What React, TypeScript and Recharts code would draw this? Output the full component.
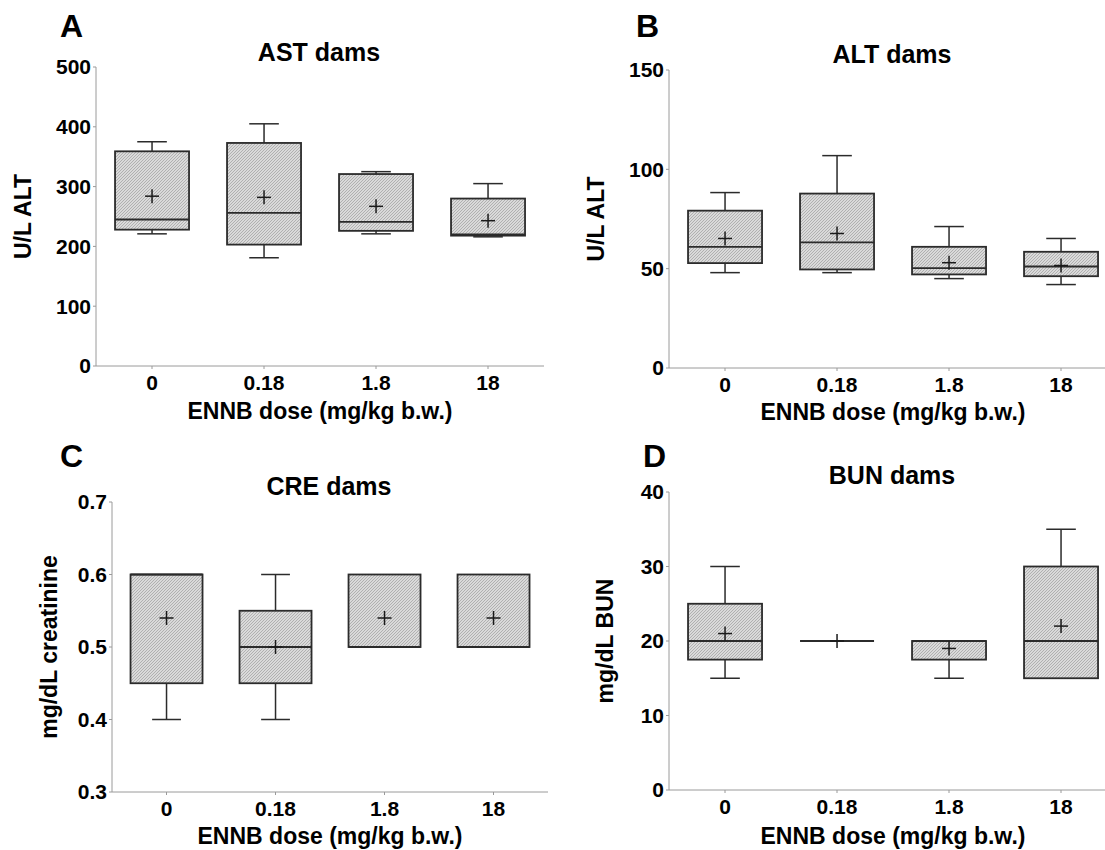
import React from 'react';
import { ComposedChart, Bar, XAxis, YAxis } from 'recharts';

const doses = ['0', '0.18', '1.8', '18'];

// AST dams (U/L)
const astMin = [221, 181, 221, 216];
const astQ1 = [228, 203, 226, 218];
const astMed = [245, 256, 241, 220];
const astQ3 = [359, 373, 321, 280];
const astMax = [375, 405, 325, 305];
const astMean = [284, 282, 267, 243];

// ALT dams (U/L)
const altMin = [48, 48, 45, 42];
const altQ1 = [52.8, 49.6, 47.1, 46.2];
const altMed = [61, 63.2, 50.3, 51.1];
const altQ3 = [79.2, 87.8, 61, 58.5];
const altMax = [88.3, 106.9, 71.2, 65.2];
const altMean = [65.2, 67.7, 53, 51.6];

// CRE dams (mg/dL)
const creMin = [0.4, 0.4, 0.5, 0.5];
const creQ1 = [0.45, 0.45, 0.5, 0.5];
const creMed = [0.6, 0.5, 0.5, 0.5];
const creQ3 = [0.6, 0.55, 0.6, 0.6];
const creMax = [0.6, 0.6, 0.6, 0.6];
const creMean = [0.54, 0.5, 0.54, 0.54];

// BUN dams (mg/dL)
const bunMin = [15, 20, 15, 15];
const bunQ1 = [17.5, 20, 17.5, 15];
const bunMed = [20, 20, 20, 20];
const bunQ3 = [25, 20, 20, 30];
const bunMax = [30, 20, 20, 35];
const bunMean = [21, 20, 19, 22];

const astTicks = [0, 100, 200, 300, 400, 500];
const altTicks = [0, 50, 100, 150];
const creTicks = [0.3, 0.4, 0.5, 0.6, 0.7];
const bunTicks = [0, 10, 20, 30, 40];

const FONT = '"Liberation Sans", Arial, Helvetica, sans-serif';
const AXIS = '#9a9a9a';
const INK = '#2b2b2b';

type Row = { dose: string; min: number; q1: number; med: number; q3: number; max: number; mean: number };

const buildRows = (min: number[], q1: number[], med: number[], q3: number[], max: number[], mean: number[]): Row[] =>
  doses.map((dose, i) => ({ dose, min: min[i], q1: q1[i], med: med[i], q3: q3[i], max: max[i], mean: mean[i] }));

const astRows = buildRows(astMin, astQ1, astMed, astQ3, astMax, astMean);
const altRows = buildRows(altMin, altQ1, altMed, altQ3, altMax, altMean);
const creRows = buildRows(creMin, creQ1, creMed, creQ3, creMax, creMean);
const bunRows = buildRows(bunMin, bunQ1, bunMed, bunQ3, bunMax, bunMean);

// bar spans min..max; inner values placed on the same linear scale
const BoxShape = (props: any) => {
  const { x, y, width, height, payload, patternId } = props;
  if (!payload) return null;
  const top = Math.min(y, y + height);
  const bottom = Math.max(y, y + height);
  const span = payload.max - payload.min;
  const py = (v: number) => (span > 0 ? bottom - ((v - payload.min) / span) * (bottom - top) : top);
  const cx = x + width / 2;
  const cap = width * 0.2;
  const yMax = py(payload.max);
  const yQ3 = py(payload.q3);
  const yQ1 = py(payload.q1);
  const yMin = py(payload.min);
  const yMed = py(payload.med);
  const yMean = py(payload.mean);
  return (
    <g>
      {payload.max > payload.q3 && (
        <g stroke={INK} strokeWidth={1.5}>
          <line x1={cx} x2={cx} y1={yMax} y2={yQ3} />
          <line x1={cx - cap} x2={cx + cap} y1={yMax} y2={yMax} />
        </g>
      )}
      {payload.min < payload.q1 && (
        <g stroke={INK} strokeWidth={1.5}>
          <line x1={cx} x2={cx} y1={yQ1} y2={yMin} />
          <line x1={cx - cap} x2={cx + cap} y1={yMin} y2={yMin} />
        </g>
      )}
      {yQ1 - yQ3 > 0 && (
        <rect x={x} y={yQ3} width={width} height={yQ1 - yQ3} fill={`url(#${patternId})`} stroke={INK} strokeWidth={1.8} />
      )}
      <line x1={x} x2={x + width} y1={yMed} y2={yMed} stroke={INK} strokeWidth={1.8} />
      <g stroke="#1a1a1a" strokeWidth={1.5}>
        <line x1={cx - 7} x2={cx + 7} y1={yMean} y2={yMean} />
        <line x1={cx} x2={cx} y1={yMean - 7} y2={yMean + 7} />
      </g>
    </g>
  );
};

type PanelProps = {
  rows: Row[];
  left: number;
  top: number;
  width: number;
  height: number;
  plotTop: number;
  yWidth: number;
  xHeight: number;
  domain: [number, number];
  ticks: number[];
  decimals: number;
  yLabel: string;
  yLabelOffset: number;
  xLabelOffset: number;
  patternId: string;
};

const labelStyle = { fill: '#000', fontSize: 23, fontWeight: 700, fontFamily: FONT };
const tickStyle = { fill: '#000', fontSize: 21, fontWeight: 700, fontFamily: FONT };

const BoxPanel = (p: PanelProps) => (
  <div style={{ position: 'absolute', left: p.left, top: p.top }}>
    <ComposedChart
      width={p.width}
      height={p.height}
      data={p.rows}
      margin={{ top: p.plotTop, right: 8, left: 0, bottom: 0 }}
      barCategoryGap="17%"
    >
      <defs>
        <pattern id={p.patternId} patternUnits="userSpaceOnUse" width={3} height={3}>
          <rect width={3} height={3} fill="#dadada" />
          <path d="M-1,1 l2,-2 M0,3 l3,-3 M2,4 l2,-2" stroke="#a6a6a6" strokeWidth={0.8} />
        </pattern>
      </defs>
      <XAxis
        dataKey="dose"
        height={p.xHeight}
        tickSize={3}
        tickMargin={6}
        axisLine={{ stroke: AXIS }}
        tickLine={{ stroke: AXIS }}
        tick={tickStyle}
        label={{ value: 'ENNB dose (mg/kg b.w.)', position: 'insideBottom', offset: p.xLabelOffset, style: labelStyle }}
      />
      <YAxis
        type="number"
        domain={p.domain}
        ticks={p.ticks}
        width={p.yWidth}
        tickSize={3}
        tickMargin={2}
        axisLine={{ stroke: AXIS }}
        tickLine={{ stroke: AXIS }}
        tickFormatter={(v: number) => v.toFixed(p.decimals)}
        tick={tickStyle}
        label={{
          value: p.yLabel,
          angle: -90,
          position: 'insideLeft',
          offset: p.yLabelOffset,
          style: { ...labelStyle, textAnchor: 'middle' },
        }}
      />
      <Bar
        dataKey={(d: Row) => [d.min, d.max]}
        isAnimationActive={false}
        shape={(s: any) => <BoxShape {...s} patternId={p.patternId} />}
      />
    </ComposedChart>
  </div>
);

const letter = { fontSize: 32, fontWeight: 700, fontFamily: FONT, fill: '#000' } as const;
const title = { fontSize: 25, fontWeight: 700, fontFamily: FONT, fill: '#000' } as const;

const App = () => (
  <div style={{ position: 'relative', width: 1105, height: 850, overflow: 'hidden', background: '#fff' }}>
    <style>{'body{margin:0}'}</style>
    <BoxPanel
      rows={astRows} left={0} top={0} width={552} height={440} plotTop={67}
      yWidth={96} xHeight={74} domain={[0, 500]} ticks={astTicks} decimals={0}
      yLabel="U/L ALT" yLabelOffset={23} xLabelOffset={21} patternId="hatchA"
    />
    <BoxPanel
      rows={altRows} left={552} top={0} width={573} height={440} plotTop={70}
      yWidth={117} xHeight={72} domain={[0, 150]} ticks={altTicks} decimals={0}
      yLabel="U/L ALT" yLabelOffset={44} xLabelOffset={20} patternId="hatchB"
    />
    <BoxPanel
      rows={creRows} left={0} top={425} width={556} height={425} plotTop={77}
      yWidth={112} xHeight={58} domain={[0.3, 0.7]} ticks={creTicks} decimals={1}
      yLabel="mg/dL creatinine" yLabelOffset={49} xLabelOffset={6} patternId="hatchC"
    />
    <BoxPanel
      rows={bunRows} left={552} top={425} width={573} height={425} plotTop={67}
      yWidth={117} xHeight={60} domain={[0, 40]} ticks={bunTicks} decimals={0}
      yLabel="mg/dL BUN" yLabelOffset={53} xLabelOffset={6} patternId="hatchD"
    />
    <svg width={1105} height={850} style={{ position: 'absolute', left: 0, top: 0, pointerEvents: 'none' }}>
      <text x={60} y={37} style={letter}>A</text>
      <text x={636} y={37} style={letter}>B</text>
      <text x={60} y={467} style={letter}>C</text>
      <text x={643} y={467} style={letter}>D</text>
      <text x={319} y={61} textAnchor="middle" style={title}>AST dams</text>
      <text x={892} y={63} textAnchor="middle" style={title}>ALT dams</text>
      <text x={329} y={495} textAnchor="middle" style={title}>CRE dams</text>
      <text x={892} y={484} textAnchor="middle" style={title}>BUN dams</text>
    </svg>
  </div>
);

export default App;
